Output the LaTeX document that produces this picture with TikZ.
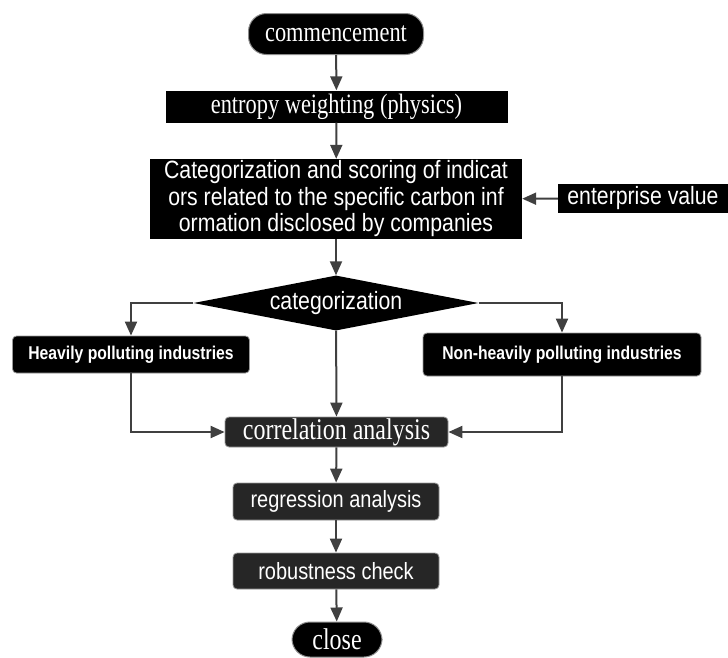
\documentclass[tikz,border=0pt]{standalone}
\usepackage{fontspec}
\usepackage{tikz}
\usetikzlibrary{shapes,arrows,positioning, arrows.meta}

\newfontfamily\serifnarrow[FakeStretch=0.8]{Liberation Serif}
\newfontfamily\sansnarrow[FakeStretch=0.85]{Liberation Sans}

\begin{document}
\begin{tikzpicture}[x=1pt, y=-1pt, >={Triangle[length=14pt, width=12pt]},
    every node/.style={text=white, inner sep=0pt, align=center},
    terminal/.style={draw=black!45, line width=1pt, fill=black, rounded corners=18pt, font=\serifnarrow\fontsize{28}{30}\selectfont},
    plainbox/.style={fill=black, font=\serifnarrow\fontsize{28}{30}\selectfont},
    textbox/.style={fill=black, font=\sansnarrow\fontsize{25}{26.5}\selectfont},
    branchbox/.style={fill=black, draw=black!40, line width=0.8pt, rounded corners=4pt, font=\sansnarrow\bfseries\fontsize{18.5}{20}\selectfont},
    greybox/.style={fill=black!85, draw=black!40, line width=0.8pt, rounded corners=4pt, font=\sansnarrow\fontsize{23.5}{25}\selectfont},
    choice/.style={diamond, aspect=5.2, fill=black, minimum width=285pt, minimum height=55pt, font=\sansnarrow\fontsize{25}{26.5}\selectfont},
    link/.style={->, draw=black!75, line width=2pt}]

        \useasboundingbox (0,0) rectangle (728,657);

        \node (start) [terminal, minimum width=175pt, minimum height=41pt] at (336,34) {commencement};
        \node (entropy) [plainbox, minimum width=342pt, minimum height=32pt] at (336.5,106.5) {entropy weighting (physics)};
        \node (score) [textbox, minimum width=372pt, minimum height=80pt] at (336,199) {Categorization and scoring of indicat\\ors related to the specific carbon inf\\ormation disclosed by companies};
        \node (value) [textbox, minimum width=170pt, minimum height=29pt] at (643,198.5) {enterprise value};

        \node (sort) [choice] at (336,303) {categorization};
        \node (heavy) [branchbox, minimum width=237pt, minimum height=37pt] at (131,354.5) {Heavily polluting industries};
        \node (light) [branchbox, minimum width=278pt, minimum height=43pt] at (562,354.5) {Non-heavily polluting industries};

        \node (corr) [greybox, font=\serifnarrow\fontsize{30}{32}\selectfont, minimum width=223pt, minimum height=30pt] at (336.5,432) {correlation analysis};
        \node (reg) [greybox, minimum width=206pt, minimum height=37pt] at (336,501.5) {regression analysis};
        \node (robust) [greybox, minimum width=206pt, minimum height=36pt] at (336,571) {robustness check};
        \node (close) [terminal, font=\serifnarrow\fontsize{30}{32}\selectfont, minimum width=90pt, minimum height=35pt] at (337,639.5) {close};

        \draw [link] (start) -- (entropy);
        \draw [link] (entropy) -- (score);
        \draw [link] (value) -- (score);
        \draw [link] (score) -- (sort);

        \draw [link] (sort.west) -| (heavy.north);
        \draw [link] (sort.east) -| (light.north);
        \draw [link] (sort) -- (corr);

        \draw [link] (heavy.south) |- (corr.west);
        \draw [link] (light.south) |- (corr.east);

        \draw [link] (corr) -- (reg);
        \draw [link] (reg) -- (robust);
        \draw [link] (robust) -- (close);
    \end{tikzpicture}
\end{document}
